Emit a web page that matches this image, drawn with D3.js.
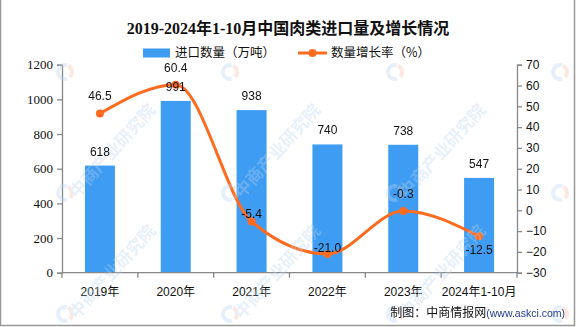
<!DOCTYPE html>
<html><head><meta charset="utf-8">
<script src="https://cdn.jsdelivr.net/npm/d3@7"></script>
<style>html,body{margin:0;padding:0;background:#fff;}svg{display:block;}</style>
</head><body>
<svg id="c" width="576" height="327"></svg>
<script>
const categories = ["2019年","2020年","2021年","2022年","2023年","2024年1-10月"];
const importVolume = [618, 991, 938, 740, 738, 547];
const growthRate = [46.5, 60.4, -5.4, -21.0, -0.3, -12.5];
const leftTicks = [0,200,400,600,800,1000,1200];
const rightTicks = [-30,-20,-10,0,10,20,30,40,50,60,70];
const rateLabelOffsets = [-14, -13, -4, -2, -13, 18];

const svg = d3.select("#c");
const L = 62, R = 517, T = 64.7, B = 272.7;
const xb = d3.scaleBand().domain(categories).range([L, R]);
const yL = d3.scaleLinear().domain([0,1200]).range([B, T]);
const yR = d3.scaleLinear().domain([-30,70]).range([B, T]);
const cx = d => xb(d) + xb.bandwidth()/2;
const barW = 30;

// frame
svg.append("path").attr("d","M0.5,0 V325.5 H574.5 V0").attr("fill","none").attr("stroke","#999").attr("stroke-width",1.5);

// title
svg.append("text").attr("x",288).attr("y",34).attr("text-anchor","middle")
  .style("font","bold 16px 'Liberation Serif','Noto Sans CJK SC'").attr("fill","#111")
  .text("2019-2024年1-10月中国肉类进口量及增长情况");

// legend
svg.append("rect").attr("x",143).attr("y",48.5).attr("width",27).attr("height",9).attr("fill","#3e9cf2");
svg.append("text").attr("x",175).attr("y",57).style("font","12.5px 'Noto Sans CJK SC'").attr("fill","#111").text("进口数量（万吨）");
svg.append("line").attr("x1",298).attr("x2",327).attr("y1",53).attr("y2",53).attr("stroke","#ff6b1f").attr("stroke-width",3);
svg.append("circle").attr("cx",312.5).attr("cy",53).attr("r",4).attr("fill","#ff6b1f");
svg.append("text").attr("x",331).attr("y",57).style("font","12.5px 'Noto Sans CJK SC'").attr("fill","#111").text("数量增长率（%）");

// bars
svg.append("g").selectAll("rect").data(importVolume).join("rect")
  .attr("x",(d,i)=>cx(categories[i]) - barW/2).attr("width",barW)
  .attr("y",d=>yL(d)).attr("height",d=>B - yL(d)).attr("fill","#3e9cf2");

// axes
const axCol = "#888";
const gl = svg.append("g").attr("transform",`translate(${L},0)`)
  .call(d3.axisLeft(yL).tickValues(leftTicks).tickFormat(d3.format("d")).tickSize(5).tickPadding(4));
const gr = svg.append("g").attr("transform",`translate(${R},0)`)
  .call(d3.axisRight(yR).tickValues(rightTicks).tickFormat(d3.format("d")).tickSize(5).tickPadding(4));
const gx = svg.append("g").attr("transform",`translate(0,${B})`)
  .call(d3.axisBottom(xb).tickSize(0).tickPadding(15));
[gl,gr,gx].forEach(g=>{
  g.select(".domain").attr("stroke",axCol).attr("stroke-width",1.3);
  g.selectAll(".tick line").attr("stroke",axCol).attr("stroke-width",1.3);
  g.selectAll("text").attr("fill","#111");
});
gl.selectAll("text").style("font","13px 'Liberation Serif'");
gr.selectAll("text").style("font","12px 'Liberation Sans'");
gx.selectAll("text").style("font","12px 'Liberation Sans','Noto Sans CJK SC'");
gx.select(".domain").attr("d",`M${L},0H${R}`);
const edges = categories.map(c=>xb(c)).concat([R]);
gx.selectAll(".edge").data(edges).join("line").attr("class","edge")
  .attr("x1",d=>d).attr("x2",d=>d).attr("y1",0).attr("y2",5).attr("stroke",axCol).attr("stroke-width",1.3);

// line
const line = d3.line().x((d,i)=>cx(categories[i])).y(d=>yR(d)).curve(d3.curveMonotoneX);
svg.append("path").datum(growthRate).attr("d",line).attr("fill","none").attr("stroke","#ff6b1f").attr("stroke-width",3);
svg.append("g").selectAll("circle").data(growthRate).join("circle")
  .attr("cx",(d,i)=>cx(categories[i])).attr("cy",d=>yR(d)).attr("r",4).attr("fill","#ff6b1f");

// watermarks
const wm = svg.append("g").attr("opacity",0.35);
for (let i=0;i<4;i++) for (let j=0;j<3;j++) {
  const lx = 65 + 165*i, ly = 72 + 121*j;
  const g = wm.append("g").attr("transform",`translate(${lx},${ly})`);
  g.append("path").attr("d",d3.arc()({innerRadius:5,outerRadius:9,startAngle:Math.PI*0.9,endAngle:Math.PI*2.1})).attr("fill","#b9d4ef");
  g.append("path").attr("d",d3.arc()({innerRadius:5,outerRadius:9,startAngle:Math.PI*0.15,endAngle:Math.PI*0.75})).attr("fill","#f4bfa9");
  if (j > 0 && lx + 100 < 576) g.append("text").attr("transform","translate(12,6) rotate(-48)")
    .style("font","bold 17px 'Noto Sans CJK SC'").attr("fill","#b9d4ef").text("中商产业研究院");
}

// data labels
const lblFont = "12px 'Liberation Sans'";
svg.append("g").selectAll("text").data(importVolume).join("text")
  .attr("x",(d,i)=>cx(categories[i])).attr("y",d=>yL(d)-10).attr("text-anchor","middle")
  .style("font",lblFont).attr("fill","#111").text(d=>d);
svg.append("g").selectAll("text").data(growthRate).join("text")
  .attr("x",(d,i)=>cx(categories[i])).attr("y",(d,i)=>yR(d)+rateLabelOffsets[i]).attr("text-anchor","middle")
  .style("font",lblFont).attr("fill","#111").text(d=>d.toFixed(1));

// footer
const ft = svg.append("text").attr("x",565).attr("y",317).attr("text-anchor","end");
ft.append("tspan").style("font","12px 'Noto Sans CJK SC'").attr("fill","#111").text("制图：中商情报网");
ft.append("tspan").style("font","10.5px 'Liberation Sans'").attr("fill","#1f3a93").text("(www.askci.com)");
</script>
</body></html>
